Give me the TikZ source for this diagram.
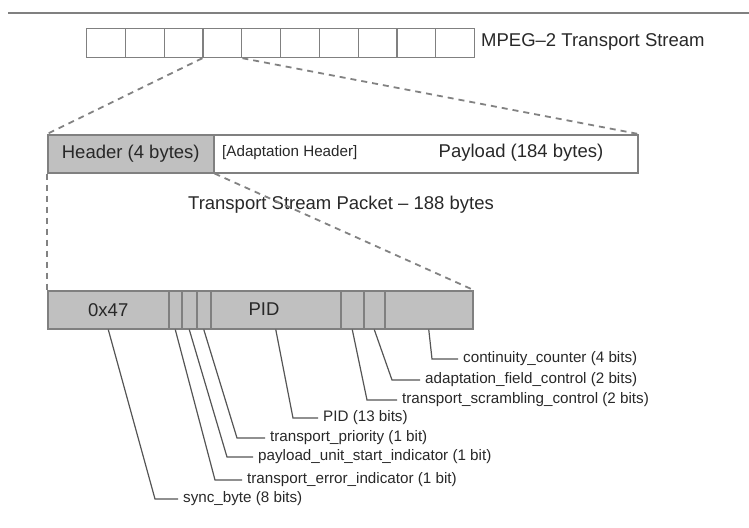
\documentclass[tikz,border=0pt]{standalone}
\usepackage{fontspec}
\setmainfont{Liberation Sans}
\definecolor{fillg}{RGB}{192,192,192}
\definecolor{edgeg}{RGB}{128,128,128}
\definecolor{txt}{RGB}{40,40,40}
\definecolor{leadc}{RGB}{85,85,85}
\definecolor{dashc}{RGB}{130,130,130}
\begin{document}
\begin{tikzpicture}[x=1pt,y=-1pt,
  bigtxt/.style={font=\fontsize{18.5}{21}\selectfont, text=txt},
  smalltxt/.style={font=\fontsize{15.2}{18}\selectfont, text=txt},
  cell/.style={draw=edgeg, line width=1.2pt, minimum width=38.8pt, minimum height=29pt, inner sep=0pt, anchor=north west},
  graybox/.style={draw=edgeg, fill=fillg, line width=1.5pt, minimum height=38pt, inner sep=0pt, anchor=north west},
  whitebox/.style={draw=edgeg, fill=white, line width=1.5pt, minimum height=38pt, inner sep=0pt, anchor=north west},
  dline/.style={draw=dashc, line width=1.8pt, dash pattern=on 6pt off 5pt},
  lead/.style={draw=leadc, line width=1.2pt},
  lab/.style={smalltxt, anchor=west, inner xsep=5pt, inner ysep=0pt},
]
\useasboundingbox (0,0) rectangle (749,527);
% top rule
\coordinate (tl1) at (8,13);
\coordinate (tl2) at (749,13);
\draw[draw=edgeg, line width=2pt] (tl1) -- (tl2);
% transport stream cells
\foreach \i in {1,...,10} {
  \node[cell] (s\i) at ({86+38.8*(\i-1)},28) {};
}
\node[bigtxt, anchor=west, inner sep=3pt] (mpeg) at (478,42) {MPEG–2 Transport Stream};
% packet
\node[graybox, minimum width=166pt, bigtxt] (hdr) at (47,134) {Header (4 bytes)};
\node[whitebox, minimum width=424pt] (pay) at (213,134) {};
\node[smalltxt, anchor=west, inner sep=0pt] (adh) at (222,153) {[Adaptation Header]};
\node[bigtxt] (payt) at (521,153) {Payload (184 bytes)};
\node[bigtxt] (tsp) at (341,205) {Transport Stream Packet – 188 bytes};
% zoom dashes stream -> packet
\draw[dline] (s4.south west) -- (hdr.north west);
\draw[dline] (s4.south east) -- (pay.north east);
% header fields bar
\node[graybox, minimum width=121pt, bigtxt] (f1) at (47,290) {0x47};
\node[graybox, minimum width=13pt] (f2) at (168,290) {};
\node[graybox, minimum width=15pt] (f3) at (181,290) {};
\node[graybox, minimum width=14pt] (f4) at (196,290) {};
\node[graybox, minimum width=130pt] (f5) at (210,290) {};
\node[graybox, minimum width=23pt] (f6) at (340,290) {};
\node[graybox, minimum width=21pt] (f7) at (363,290) {};
\node[graybox, minimum width=88pt] (f8) at (384,290) {};
\node[bigtxt] (pidt) at (264,309) {PID};
% zoom dashes packet -> bar
\draw[dline] (hdr.south west) -- (f1.north west);
\draw[dline] (hdr.south east) -- (f8.north east);
% labels
\node[lab] (l1) at (178,499) {sync\_byte (8 bits)};
\node[lab] (l2) at (242,480) {transport\_error\_indicator (1 bit)};
\node[lab] (l3) at (253,457) {payload\_unit\_start\_indicator (1 bit)};
\node[lab] (l4) at (265,438) {transport\_priority (1 bit)};
\node[lab] (l5) at (318,418) {PID (13 bits)};
\node[lab] (l6) at (397,400) {transport\_scrambling\_control (2 bits)};
\node[lab] (l7) at (420,380) {adaptation\_field\_control (2 bits)};
\node[lab] (l8) at (458,359) {continuity\_counter (4 bits)};
% corners
\coordinate (c1) at (155,499);
\coordinate (c2) at (215,480);
\coordinate (c3) at (227,457);
\coordinate (c4) at (237,438);
\coordinate (c5) at (293,418);
\coordinate (c6) at (367,400);
\coordinate (c7) at (392,380);
\coordinate (c8) at (432,359);
% leaders
\draw[lead] (f1.south) -- (c1) -- (l1.west);
\draw[lead] (f2.south) -- (c2) -- (l2.west);
\draw[lead] (f3.south) -- (c3) -- (l3.west);
\draw[lead] (f4.south) -- (c4) -- (l4.west);
\draw[lead] (f5.south) -- (c5) -- (l5.west);
\draw[lead] (f6.south) -- (c6) -- (l6.west);
\draw[lead] (f7.south) -- (c7) -- (l7.west);
\draw[lead] (f8.south) -- (c8) -- (l8.west);
\end{tikzpicture}
\end{document}
